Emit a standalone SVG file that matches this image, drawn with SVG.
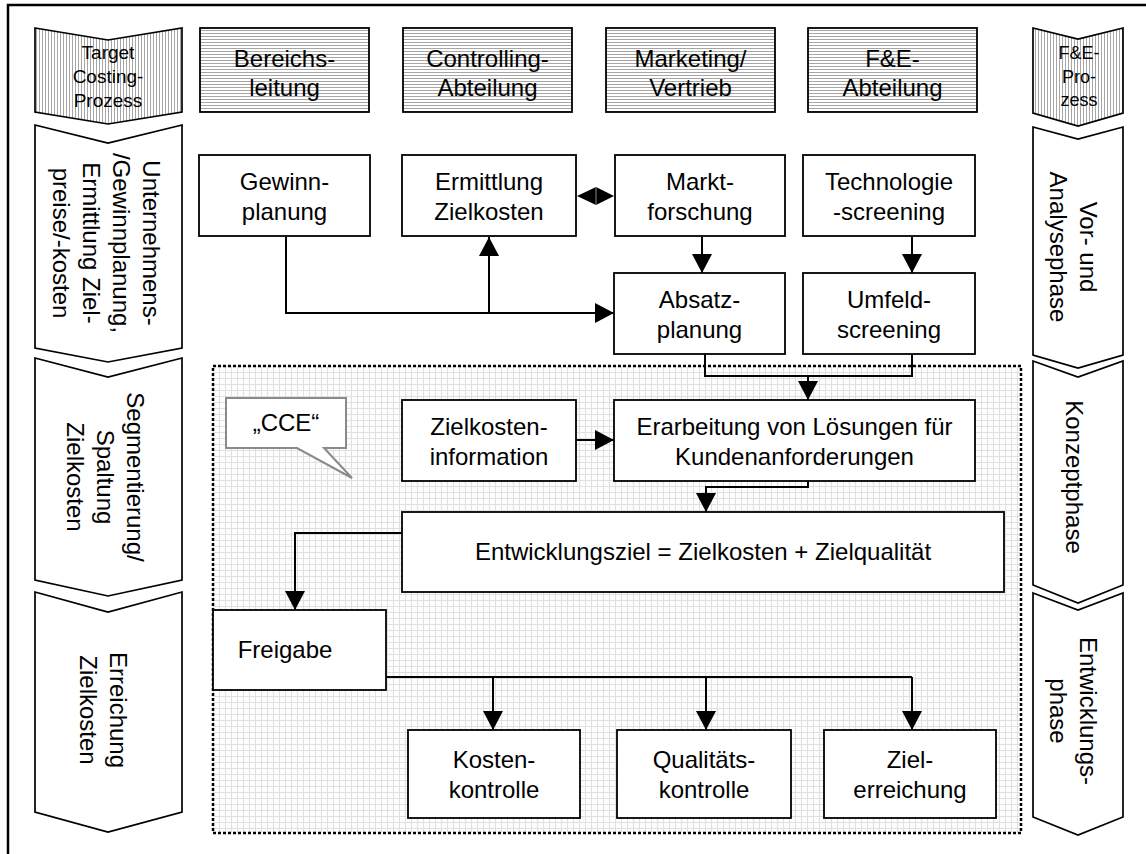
<svg xmlns="http://www.w3.org/2000/svg" width="1146" height="854" viewBox="0 0 1146 854">
  <style>
    text { font-family: "Liberation Sans", Arial, sans-serif; font-size: 24px; fill: #000; text-anchor: middle; }
    .small { font-size: 19px; }
    .box { fill: #fff; stroke: #000; stroke-width: 1.8; }
    .hbox { fill: url(#hatchH); stroke: #000; stroke-width: 1.8; }
    .chev { fill: #fff; stroke: #000; stroke-width: 1.7; stroke-linejoin: miter; }
    .chevH { fill: url(#hatchV); stroke: #000; stroke-width: 1.7; }
    .conn { fill: none; stroke: #000; stroke-width: 2; }
    .arrow { marker-end: url(#arrowHead); }
  </style>
  <defs>
    <pattern id="hatchV" width="3" height="3" patternUnits="userSpaceOnUse">
      <rect width="3" height="3" fill="#fff"/>
      <rect x="0" y="0" width="1" height="3" fill="#a6a6a6"/>
    </pattern>
    <pattern id="hatchH" width="3" height="3" patternUnits="userSpaceOnUse">
      <rect width="3" height="3" fill="#fff"/>
      <rect x="0" y="0" width="3" height="1" fill="#a6a6a6"/>
    </pattern>
    <pattern id="grid" width="6" height="6" patternUnits="userSpaceOnUse" x="213" y="366">
      <rect width="6" height="6" fill="#fdfdfd"/>
      <path d="M0,0.5 H6 M0.5,0 V6" stroke="#e0e0e0" stroke-width="1"/>
    </pattern>
    <marker id="arrowHead" viewBox="0 0 19 20" refX="19" refY="10" markerWidth="19" markerHeight="20" markerUnits="userSpaceOnUse" orient="auto">
      <path d="M0,0 L19,10 L0,20 Z" fill="#000"/>
    </marker>
  </defs>

  <!-- outer frame -->
  <path d="M8,854 V5 H1146" fill="none" stroke="#000" stroke-width="2.5"/>

  <!-- concurrent cost engineering area -->
  <g id="cce-area">
    <rect x="213" y="366" width="808" height="467" fill="url(#grid)" stroke="#000" stroke-width="2.5" stroke-dasharray="3,2"/>
  </g>

  <!-- left phase column -->
  <g id="tc-header">
    <path class="chevH" d="M35,28 L108,40 L182,28 V112 L108,124 L35,112 Z"/>
    <text class="small" x="108" y="59">Target</text>
    <text class="small" x="108" y="83">Costing-</text>
    <text class="small" x="108" y="107">Prozess</text>
  </g>
  <g id="tc-phase1">
    <path class="chev" d="M35,125 L108,143 L182,125 V348 L108,362 L35,348 Z"/>
    <g transform="translate(106,243) rotate(90)">
      <text x="0" y="-37">Unternehmens-</text>
      <text x="0" y="-7">/Gewinnplanung,</text>
      <text x="0" y="23">Ermittlung Ziel-</text>
      <text x="0" y="53">preise/-kosten</text>
    </g>
  </g>
  <g id="tc-phase2">
    <path class="chev" d="M35,358 L108,377 L182,358 V580 L108,596 L35,580 Z"/>
    <g transform="translate(105,477) rotate(90)">
      <text x="0" y="-22">Segmentierung/</text>
      <text x="0" y="8">Spaltung</text>
      <text x="0" y="38">Zielkosten</text>
    </g>
  </g>
  <g id="tc-phase3">
    <path class="chev" d="M35,592 L108,612 L182,592 V812 L108,832 L35,812 Z"/>
    <g transform="translate(103,710) rotate(90)">
      <text x="0" y="-7">Erreichung</text>
      <text x="0" y="23">Zielkosten</text>
    </g>
  </g>

  <!-- right phase column -->
  <g id="fe-header">
    <path class="chevH" d="M1033,28 L1078,39 L1123,28 V113 L1078,126 L1033,113 Z"/>
    <text class="small" x="1079" y="59" style="font-size:18px">F&amp;E-</text>
    <text class="small" x="1079" y="83" style="font-size:18px">Pro-</text>
    <text class="small" x="1079" y="106" style="font-size:18px">zess</text>
  </g>
  <g id="fe-phase1">
    <path class="chev" d="M1033,127 L1078,139 L1123,127 V355 L1078,368 L1033,355 Z"/>
    <g transform="translate(1073,247) rotate(90)">
      <text x="0" y="-7">Vor- und</text>
      <text x="0" y="23">Analysephase</text>
    </g>
  </g>
  <g id="fe-phase2">
    <path class="chev" d="M1033,361 L1078,377 L1123,361 V585 L1078,603 L1033,585 Z"/>
    <g transform="translate(1074,477) rotate(90)">
      <text x="0" y="8">Konzeptphase</text>
    </g>
  </g>
  <g id="fe-phase3">
    <path class="chev" d="M1033,593 L1078,610 L1123,593 V817 L1078,835 L1033,817 Z"/>
    <g transform="translate(1073,711) rotate(90)">
      <text x="0" y="-7">Entwicklungs-</text>
      <text x="0" y="23">phase</text>
    </g>
  </g>

  <!-- department headers -->
  <g id="hdr-bereichsleitung">
    <rect class="hbox" x="200" y="28" width="169" height="84"/>
    <text x="284.5" y="67">Bereichs-</text>
    <text x="284.5" y="96">leitung</text>
  </g>
  <g id="hdr-controlling">
    <rect class="hbox" x="403" y="28" width="169" height="84"/>
    <text x="487.5" y="67">Controlling-</text>
    <text x="487.5" y="96">Abteilung</text>
  </g>
  <g id="hdr-marketing">
    <rect class="hbox" x="606" y="28" width="169" height="84"/>
    <text x="690.5" y="67">Marketing/</text>
    <text x="690.5" y="96">Vertrieb</text>
  </g>
  <g id="hdr-fe">
    <rect class="hbox" x="808" y="28" width="169" height="84"/>
    <text x="892.5" y="67">F&amp;E-</text>
    <text x="892.5" y="96">Abteilung</text>
  </g>

  <!-- connectors -->
  <g id="connectors">
    <path class="conn arrow" d="M286,237 V313 H614"/>
    <path class="conn arrow" d="M489,313 V237"/>
    <path class="conn arrow" d="M702,237 V273"/>
    <path class="conn arrow" d="M912,237 V273"/>
    <path class="conn" d="M705,354 V376 H912 V354"/>
    <path class="conn arrow" d="M808,376 V400"/>
    <path class="conn arrow" d="M576,440 H614"/>
    <path class="conn arrow" d="M808,481 V487 H706 V512"/>
    <path class="conn arrow" d="M402,533 H295 V610"/>
    <path class="conn" d="M386,677 H912"/>
    <path class="conn arrow" d="M493,677 V730"/>
    <path class="conn arrow" d="M706,677 V730"/>
    <path class="conn arrow" d="M912,677 V730"/>
    <path d="M577,196 L596,187 L614,196 L596,205 Z" fill="#000"/>
    <path d="M596,187 V205" stroke="#888" stroke-width="1"/>
  </g>

  <!-- planning nodes -->
  <g id="n-gewinnplanung">
    <rect class="box" x="199" y="155" width="171" height="81"/>
    <text x="284.5" y="190">Gewinn-</text>
    <text x="284.5" y="220">planung</text>
  </g>
  <g id="n-ermittlung">
    <rect class="box" x="402" y="155" width="174" height="81"/>
    <text x="489" y="190">Ermittlung</text>
    <text x="489" y="220">Zielkosten</text>
  </g>
  <g id="n-marktforschung">
    <rect class="box" x="615" y="155" width="170" height="81"/>
    <text x="700" y="190">Markt-</text>
    <text x="700" y="220">forschung</text>
  </g>
  <g id="n-technologie">
    <rect class="box" x="803" y="155" width="172" height="81"/>
    <text x="889" y="190">Technologie</text>
    <text x="889" y="220">-screening</text>
  </g>
  <g id="n-absatzplanung">
    <rect class="box" x="614" y="273" width="171" height="81"/>
    <text x="699.5" y="308">Absatz-</text>
    <text x="699.5" y="338">planung</text>
  </g>
  <g id="n-umfeld">
    <rect class="box" x="803" y="273" width="172" height="81"/>
    <text x="889" y="308">Umfeld-</text>
    <text x="889" y="338">screening</text>
  </g>

  <!-- CCE callout -->
  <g id="n-cce">
    <path d="M226,398 H346 V448 H324 L352,478 L297,448 H226 Z" fill="#fff" stroke="#8a8a8a" stroke-width="2"/>
    <text x="286" y="431">„CCE“</text>
  </g>

  <!-- concept and development nodes -->
  <g id="n-zielkosteninfo">
    <rect class="box" x="402" y="400" width="174" height="81"/>
    <text x="489" y="435">Zielkosten-</text>
    <text x="489" y="465">information</text>
  </g>
  <g id="n-erarbeitung">
    <rect class="box" x="614" y="400" width="361" height="81"/>
    <text x="794.5" y="435">Erarbeitung von Lösungen für</text>
    <text x="794.5" y="465">Kundenanforderungen</text>
  </g>
  <g id="n-entwicklungsziel">
    <rect class="box" x="402" y="512" width="602" height="80"/>
    <text x="703" y="560">Entwicklungsziel = Zielkosten + Zielqualität</text>
  </g>
  <g id="n-freigabe">
    <rect class="box" x="213" y="610" width="173" height="80"/>
    <text x="285" y="658">Freigabe</text>
  </g>
  <g id="n-kostenkontrolle">
    <rect class="box" x="408" y="730" width="172" height="88"/>
    <text x="494" y="768">Kosten-</text>
    <text x="494" y="798">kontrolle</text>
  </g>
  <g id="n-qualitaetskontrolle">
    <rect class="box" x="617" y="730" width="174" height="88"/>
    <text x="704" y="768">Qualitäts-</text>
    <text x="704" y="798">kontrolle</text>
  </g>
  <g id="n-zielerreichung">
    <rect class="box" x="824" y="730" width="172" height="88"/>
    <text x="910" y="768">Ziel-</text>
    <text x="910" y="798">erreichung</text>
  </g>
</svg>
